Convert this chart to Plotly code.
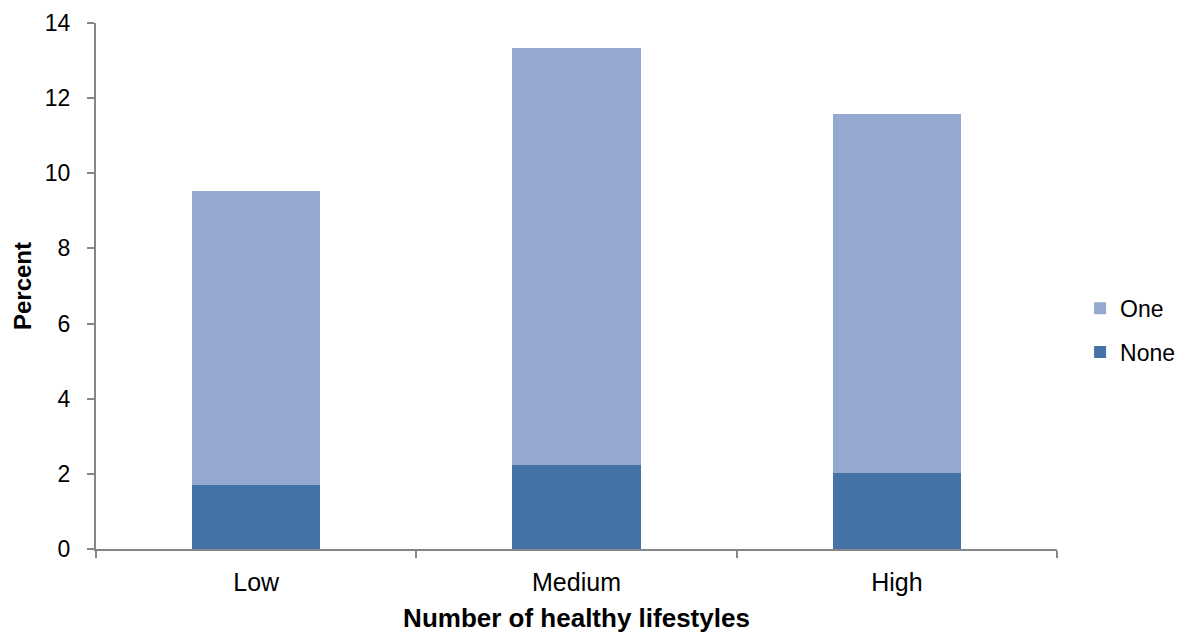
import plotly.graph_objects as go

# Share of participants by number of healthy lifestyles
categories = ["Low", "Medium", "High"]
none_values = [1.71, 2.24, 2.03]
one_values = [7.81, 11.10, 9.56]
y_ticks = [0, 2, 4, 6, 8, 10, 12, 14]

FONT = "Liberation Sans, Arial, sans-serif"
AXIS_GREY = "#868686"

fig = go.Figure()
fig.add_trace(go.Bar(x=categories, y=none_values, name="None",
                     legendgroup="none", legendrank=2,
                     marker=dict(color="#4573A7", line=dict(width=0))))
fig.add_trace(go.Bar(x=categories, y=one_values, name="One",
                     legendgroup="one", legendrank=1,
                     marker=dict(color="#95A9D0", line=dict(width=0))))

fig.update_layout(
    barmode="stack",
    bargap=0.6,
    width=1183,
    height=635,
    margin=dict(l=96, r=126, t=23, b=86, autoexpand=False),
    paper_bgcolor="white",
    plot_bgcolor="white",
    font=dict(family=FONT, size=23, color="black"),
    legend=dict(
        traceorder="grouped",
        xref="container", yref="container",
        x=0.913, xanchor="left",
        y=0.48, yanchor="middle",
        font=dict(size=23),
        itemwidth=30,
        tracegroupgap=11,
    ),
    xaxis=dict(
        type="category",
        showline=True, linecolor=AXIS_GREY, linewidth=2,
        ticks="outside", tickson="boundaries", ticklen=7,
        tickcolor=AXIS_GREY, tickwidth=2,
        ticklabelstandoff=10,
        showgrid=False, zeroline=False,
        tickfont=dict(size=25),
        title=dict(text="<b>Number of healthy lifestyles</b>",
                   font=dict(size=26), standoff=14),
    ),
    yaxis=dict(
        range=[0, 14],
        tickvals=y_ticks,
        showline=True, linecolor=AXIS_GREY, linewidth=2,
        ticks="outside", ticklen=7, tickcolor=AXIS_GREY, tickwidth=2,
        ticklabelstandoff=12,
        showgrid=False, zeroline=False,
        tickfont=dict(size=23),
        title=dict(text="<b>Percent</b>", font=dict(size=24), standoff=6),
    ),
)

fig.write_html("out.html")
